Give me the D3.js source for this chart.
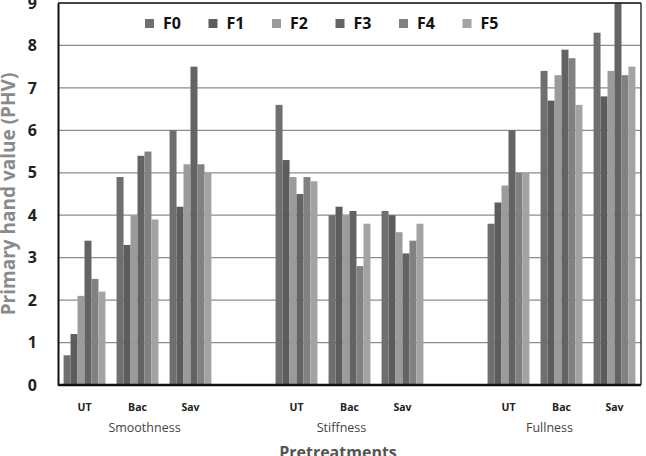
<!DOCTYPE html>
<html>
<head>
<meta charset="utf-8">
<script src="https://cdn.jsdelivr.net/npm/d3@7"></script>
<style>
  body { margin: 0; background: #fff; }
  text { font-family: "Open Sans", "Liberation Sans", sans-serif; }
</style>
</head>
<body>
<svg id="chart" width="646" height="456"></svg>
<script>
// slots along the x axis, blanks separate the three properties
const slots = ["S-UT", "S-Bac", "S-Sav", "gap1", "T-UT", "T-Bac", "T-Sav", "gap2", "F-UT", "F-Bac", "F-Sav"];
const slotLabels = ["UT", "Bac", "Sav", "", "UT", "Bac", "Sav", "", "UT", "Bac", "Sav"];
const properties = ["Smoothness", "Stiffness", "Fullness"];
const series = ["F0", "F1", "F2", "F3", "F4", "F5"];
const yTicks = [0, 1, 2, 3, 4, 5, 6, 7, 8, 9];

// values per series, in slot order (null for the blank slots)
const F0 = [0.7, 4.9, 6.0, null, 6.6, 4.0, 4.1, null, 3.8, 7.4, 8.3];
const F1 = [1.2, 3.3, 4.2, null, 5.3, 4.2, 4.0, null, 4.3, 6.7, 6.8];
const F2 = [2.1, 4.0, 5.2, null, 4.9, 4.0, 3.6, null, 4.7, 7.3, 7.4];
const F3 = [3.4, 5.4, 7.5, null, 4.5, 4.1, 3.1, null, 6.0, 7.9, 9.0];
const F4 = [2.5, 5.5, 5.2, null, 4.9, 2.8, 3.4, null, 5.0, 7.7, 7.3];
const F5 = [2.2, 3.9, 5.0, null, 4.8, 3.8, 3.8, null, 5.0, 6.6, 7.5];
const values = [F0, F1, F2, F3, F4, F5];

const colors = ["#6f6f6f", "#5c5c5c", "#9b9b9b", "#636363", "#818181", "#a3a3a3"];

const svg = d3.select("#chart");
const m = {left: 58, right: 5, top: 3, bottom: 71};
const W = 646, H = 456;
const pw = W - m.left - m.right, ph = H - m.top - m.bottom;

const g = svg.append("g").attr("transform", `translate(${m.left},${m.top})`);

const x = d3.scaleBand().domain(slots).range([0, pw]).paddingInner(0.21).paddingOuter(0.105);
const xs = d3.scaleBand().domain(series).range([0, x.bandwidth()]);
const y = d3.scaleLinear().domain([0, 9]).range([ph, 0]);

// gridlines
g.selectAll(".grid").data(yTicks.slice(1)).join("line")
  .attr("x1", 0).attr("x2", pw)
  .attr("y1", d => y(d)).attr("y2", d => y(d))
  .attr("stroke", "#8c8c8c").attr("stroke-width", 1.3);

// bars
series.forEach((s, i) => {
  g.append("g").selectAll("rect")
    .data(slots.map((k, j) => ({k, v: values[i][j]})).filter(d => d.v != null))
    .join("rect")
    .attr("x", d => x(d.k) + xs(s))
    .attr("y", d => y(d.v))
    .attr("width", xs.bandwidth())
    .attr("height", d => ph - y(d.v))
    .attr("fill", colors[i]);
});

// frame: top and right borders
g.append("line").attr("x1", 0).attr("x2", pw).attr("y1", 0).attr("y2", 0)
  .attr("stroke", "#222").attr("stroke-width", 1.5);
g.append("line").attr("x1", pw).attr("x2", pw).attr("y1", 0).attr("y2", ph)
  .attr("stroke", "#333").attr("stroke-width", 1.5);

// y axis
const yAxis = g.append("g").call(d3.axisLeft(y).tickValues(yTicks).tickSize(0).tickPadding(21));
yAxis.select(".domain").attr("stroke", "#111").attr("stroke-width", 2);
yAxis.selectAll("text").attr("font-size", 16).attr("font-weight", "bold").attr("fill", "#222");

// x axis line
g.append("line").attr("x1", 0).attr("x2", pw).attr("y1", ph).attr("y2", ph)
  .attr("stroke", "#111").attr("stroke-width", 2.5);

// slot labels
g.selectAll(".slot").data(slots).join("text")
  .attr("x", d => x(d) + x.bandwidth() / 2)
  .attr("y", ph + 26)
  .attr("text-anchor", "middle")
  .attr("font-size", 10.5).attr("font-weight", "bold").attr("fill", "#222")
  .text((d, i) => slotLabels[i]);

// property labels, near the middle slot of each trio
const mids = ["S-Bac", "T-Bac", "F-Bac"];
const nudge = [7, -8, -12];
g.selectAll(".prop").data(properties).join("text")
  .attr("x", (d, i) => x(mids[i]) + x.bandwidth() / 2 + nudge[i])
  .attr("y", ph + 47)
  .attr("text-anchor", "middle")
  .attr("font-size", 12.5).attr("fill", "#444")
  .text(d => d);

// axis titles
svg.append("text")
  .attr("x", 338).attr("y", H + 2)
  .attr("text-anchor", "middle")
  .attr("font-size", 16).attr("font-weight", "bold").attr("fill", "#555")
  .text("Pretreatments");

svg.append("text")
  .attr("transform", `translate(15,194) rotate(-90)`)
  .attr("text-anchor", "middle")
  .attr("font-size", 19).attr("font-weight", "bold").attr("fill", "#8a8a8a")
  .text("Primary hand value (PHV)");

// legend
const legend = svg.append("g").attr("transform", "translate(145,17)");
series.forEach((s, i) => {
  const lg = legend.append("g").attr("transform", `translate(${i * 63.5},0)`);
  lg.append("rect").attr("width", 9).attr("height", 9).attr("y", 2).attr("fill", colors[i]);
  lg.append("text").attr("x", 18).attr("y", 12)
    .attr("font-size", 16).attr("font-weight", "bold").attr("fill", "#111").text(s);
});
</script>
</body>
</html>
